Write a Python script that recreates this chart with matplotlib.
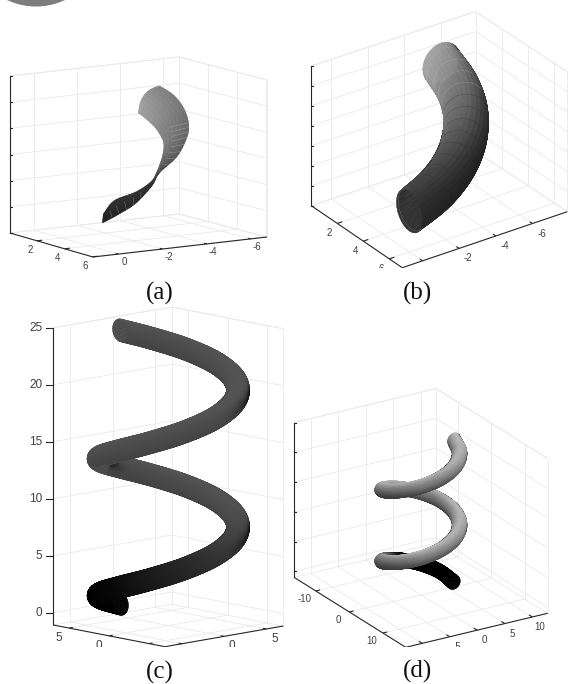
import numpy as np
import matplotlib
matplotlib.use("Agg")
import matplotlib.pyplot as plt
from matplotlib.collections import PolyCollection
from matplotlib.patches import Circle

plt.rcParams["font.family"] = ["Liberation Sans", "DejaVu Sans"]

W, H = 568, 684

# panel (a): open ribbon, two edges and a middle line, read row by row
a_y = [6, 6, 5.9, 5.7, 5.5, 5, 4.4, 3.6, 2.2, 1, 0]
a_edge1_x = [.68, -.08, -.9, -1.75, -2.21, -3.36, -4.2, -4.78, -5.49, -5.83, -5.86]
a_edge1_z = [1.25, 1.52, 1.84, 2.39, 2.80, 3.27, 3.86, 4.19, 4.48, 4.77, 4.97]
a_mid_x = [.66, .03, -.9, -1.73, -2.15, -3.02, -3.66, -4.07, -4.71, -5.08, -5.14]
a_mid_z = [1.42, 1.78, 2.05, 2.47, 2.81, 3.30, 3.78, 4.12, 4.28, 4.46, 4.69]
a_edge2_x = [.64, .15, -.9, -1.71, -2.09, -2.68, -3.12, -3.35, -3.93, -4.32, -4.88]
a_edge2_z = [1.59, 2.05, 2.27, 2.55, 2.83, 3.34, 3.71, 4.05, 4.09, 4.16, 4.01]
a_gray = [38, 40, 45, 55, 80, 105, 118, 128, 140, 150, 160]

# panel (b): tube segment
b_x = [0, -1.55, -3, -4.24, -5.2, -5.8, -6]
b_y = [6, 5.8, 5.2, 4.24, 3, 1.55, 0]
b_z = [2.05, 2.55, 3.05, 3.55, 4.05, 4.5, 5.0]
b_gray = [60, 64, 74, 88, 100, 118, 140]

# panel (c): two turns
c_x = [0, -3, -5.2, -6, -5.2, -3, 0, 3, 5.2, 6, 5.2, 3, 0, -3, -5.2, -6, -5.2, -3, 0, 3, 5.2, 6, 5.2, 3, 0]
c_y = [6, 5.2, 3, 0, -3, -5.2, -6, -5.2, -3, 0, 3, 5.2, 6, 5.2, 3, 0, -3, -5.2, -6, -5.2, -3, 0, 3, 5.2, 6]
c_z = [0, 1, 2, 3, 4, 5, 6, 7, 8, 9, 10, 11, 12, 13, 14, 15, 16, 17, 18, 19, 20, 21, 22, 23, 24]
c_gray = [0, 0, 0, 8, 25, 40, 55, 65, 72, 75, 75, 75, 75, 75, 75, 75, 75, 75, 75, 75, 75, 75, 75, 75, 78]

# panel (d): two turns, the other way round
d_x = [6, 5.2, 3, 0, -3, -5.2, -6, -5.2, -3, 0, 3, 5.2, 6, 5.2, 3, 0, -3, -5.2, -6, -5.2, -3, 0, 3, 5.2, 6]
d_y = [0, -3, -5.2, -6, -5.2, -3, 0, 3, 5.2, 6, 5.2, 3, 0, -3, -5.2, -6, -5.2, -3, 0, 3, 5.2, 6, 5.2, 3, 0]
d_z = [-.25, .75, 1.75, 2.75, 3.75, 4.75, 5.75, 6.75, 7.75, 8.75, 9.75, 10.75, 11.75, 12.75, 13.75,
       14.75, 15.75, 16.75, 17.75, 18.75, 19.75, 20.75, 21.75, 22.75, 23.75]
d_gray = [0, 0, 0, 0, 60, 105, 115, 125, 130, 130, 130, 130, 130, 125, 125, 125, 125, 125, 125, 125, 125, 125, 130, 130, 130]

# axis limits and ticks
a_xticks, a_yticks, a_zticks = [0, -2, -4, -6], [2, 4, 6], [0, 1, 2, 3, 4, 5, 6]
b_xticks, b_yticks, b_zticks = [0, -2, -4, -6], [2, 4, 6], [0, 1, 2, 3, 4, 5, 6, 7]
c_xticks, c_yticks, c_zticks = [-5, 0, 5], [5, 0, -5], [0, 5, 10, 15, 20, 25]
d_xticks, d_yticks, d_zticks = [-10, -5, 0, 5, 10], [-10, 0, 10], [0, 5, 10, 15, 20, 25]


class View:
    """box drawn from its floor corners in image pixels, z goes straight up"""

    def __init__(self, xs, ys, zs, L, F, R, B, height):
        self.xs, self.ys, self.zs = xs, ys, zs
        self.c = [np.array(p, float) for p in (L, F, R, B)]
        self.height = height
        l, f, r, b = self.c
        ex = ((r - f) + (b - l)) / 2 / (xs[1] - xs[0])
        ey = ((f - l) + (r - b)) / 2 / (ys[1] - ys[0])
        ez = height / (zs[1] - zs[0])
        right = np.array([ex[0], ey[0], 0.0])
        up = np.array([-ex[1], -ey[1], ez])
        self.right = right / np.linalg.norm(right)
        self.up = up / np.linalg.norm(up)
        view = np.cross(self.right, self.up)
        # the floor is always seen from above
        if view[2] < 0:
            view = -view
        self.view = view / np.linalg.norm(view)

    def __call__(self, x, y, z):
        x, y, z = np.asarray(x, float), np.asarray(y, float), np.asarray(z, float)
        fx = (x - self.xs[0]) / (self.xs[1] - self.xs[0])
        fy = (y - self.ys[0]) / (self.ys[1] - self.ys[0])
        l, f, r, b = self.c
        px = (1 - fx) * (1 - fy) * l[0] + (1 - fx) * fy * f[0] + fx * fy * r[0] + fx * (1 - fy) * b[0]
        py = (1 - fx) * (1 - fy) * l[1] + (1 - fx) * fy * f[1] + fx * fy * r[1] + fx * (1 - fy) * b[1]
        py = py - (z - self.zs[0]) / (self.zs[1] - self.zs[0]) * self.height
        return px, py


def smooth(values, n):
    # catmull-rom through the read points
    v = np.asarray(values, float)
    p = np.concatenate([[2 * v[0] - v[1]], v, [2 * v[-1] - v[-2]]])
    out = []
    for i in range(1, len(p) - 2):
        t = np.linspace(0, 1, n, endpoint=False)
        out.append(.5 * (2 * p[i] + (p[i + 1] - p[i - 1]) * t
                         + (2 * p[i - 1] - 5 * p[i] + 4 * p[i + 1] - p[i + 2]) * t ** 2
                         + (3 * p[i] - p[i - 1] - 3 * p[i + 1] + p[i + 2]) * t ** 3))
    out.append(v[-1:])
    return np.concatenate(out)


def tube_mesh(x, y, z, radius, nseg, nround=28):
    # rings stand in the plane through the z axis
    line = np.stack([smooth(x, nseg), smooth(y, nseg), smooth(z, nseg)], axis=1)
    radial = line * np.array([1, 1, 0])
    radial /= np.linalg.norm(radial, axis=1, keepdims=True)
    ang = np.linspace(0, 2 * np.pi, nround + 1)
    pts = np.zeros((len(line), nround + 1, 3))
    nor = np.zeros_like(pts)
    for i in range(len(line)):
        ring = np.outer(np.cos(ang), radial[i]) + np.outer(np.sin(ang), [0, 0, 1.0])
        nor[i] = ring
        pts[i] = line[i] + radius * ring
    return pts, nor


def draw_mesh(ax, view, pts, colors_fn):
    px, py = view(pts[..., 0], pts[..., 1], pts[..., 2])
    verts = np.stack([
        np.stack([px[:-1, :-1], py[:-1, :-1]], -1), np.stack([px[1:, :-1], py[1:, :-1]], -1),
        np.stack([px[1:, 1:], py[1:, 1:]], -1), np.stack([px[:-1, 1:], py[:-1, 1:]], -1)], axis=2)
    centre = (pts[:-1, :-1] + pts[1:, 1:]) / 2
    depth = centre @ view.view
    gray = colors_fn()
    order = np.argsort(depth.ravel())
    verts = verts.reshape(-1, 4, 2)[order]
    g = np.clip(gray.ravel()[order], 0, 255) / 255
    cols = np.stack([g, g, g], axis=1)
    ax.add_collection(PolyCollection(verts, facecolors=cols, edgecolors=cols, linewidths=.35))


def draw_tube(ax, view, x, y, z, gray, nseg, up_gain, right_dark, right_pow, left_gain=0, inner=50, radius=1.0):
    pts, nor = tube_mesh(x, y, z, radius, nseg)
    base = np.interp(np.linspace(0, len(gray) - 1, pts.shape[0]), np.arange(len(gray)), gray)

    def colors():
        n = (nor[:-1, :-1] + nor[1:, 1:]) / 2
        nr, nu, nv = n @ view.right, n @ view.up, n @ view.view
        f = 1 + up_gain * nu - right_dark * np.clip(nr, 0, 1) ** right_pow + left_gain * np.clip(-nr, 0, 1)
        g = base[:-1, None] * f
        return np.where(nv < 0, np.minimum(base[:-1, None], inner), g)

    draw_mesh(ax, view, pts, colors)
    return pts, nor


def draw_box(ax, view, xticks, yticks, zticks, xlabels, ylabels, zlabels,
             xoff, yoff, zlen, fs):
    x0, x1 = view.xs
    y0, y1 = view.ys
    z0, z1 = view.zs
    grid = dict(color="#e9e9e9", lw=.6, zorder=1)

    def seg(p, q, **kw):
        a = view(*p)
        b = view(*q)
        ax.plot([a[0], b[0]], [a[1], b[1]], solid_capstyle="butt", **kw)

    # walls and floor
    for t in xticks:
        seg((t, y0, z0), (t, y0, z1), **grid)
        seg((t, y0, z0), (t, y1, z0), **grid)
    for t in yticks:
        seg((x1, t, z0), (x1, t, z1), **grid)
        seg((x0, t, z0), (x1, t, z0), **grid)
    for t in zticks:
        seg((x0, y0, t), (x1, y0, t), **grid)
        seg((x1, y0, t), (x1, y1, t), **grid)
    seg((x1, y0, z0), (x1, y0, z1), **grid)
    seg((x1, y1, z0), (x1, y1, z1), **grid)
    seg((x0, y0, z1), (x1, y0, z1), **grid)
    seg((x1, y0, z1), (x1, y1, z1), **grid)
    seg((x1, y0, z0), (x1, y1, z0), **grid)
    seg((x0, y0, z0), (x1, y0, z0), **grid)

    axis = dict(color="#262626", lw=.8, zorder=5)
    seg((x0, y0, z0), (x0, y1, z0), **axis)
    seg((x0, y1, z0), (x1, y1, z0), **axis)
    seg((x0, y0, z0), (x0, y0, z1), **axis)

    for t, lab in zip(xticks, xlabels):
        seg((t, y1, z0), (t, y1 - .03 * (y1 - y0), z0), **axis)
        u, v = view(t, y1, z0)
        ax.text(u + xoff[0], v + xoff[1], lab, fontsize=fs, color="#404040", ha="center", va="center", clip_on=True)
    for t, lab in zip(yticks, ylabels):
        seg((x0, t, z0), (x0 + .03 * (x1 - x0), t, z0), **axis)
        u, v = view(x0, t, z0)
        ax.text(u + yoff[0], v + yoff[1], lab, fontsize=fs, color="#404040", ha="center", va="center", clip_on=True)
    for t, lab in zip(zticks, zlabels):
        u, v = view(x0, y0, t)
        ax.plot([u, u + zlen], [v, v], **axis)
        if lab:
            ax.text(u - 11, v, lab, fontsize=fs, color="#404040", ha="right", va="center", clip_on=True)


def panel(box):
    x0, y0, x1, y1 = box
    ax = fig.add_axes([x0 / W, 1 - y1 / H, (x1 - x0) / W, (y1 - y0) / H])
    ax.set_xlim(x0, x1)
    ax.set_ylim(y1, y0)
    ax.axis("off")
    return ax


fig = plt.figure(figsize=(W / 100, H / 100), dpi=100)

# (a)
ax = panel((0, 0, 284, 270))
ax.add_patch(Circle((36, -61.5), 68, fc="#7d7d7d", ec="none", zorder=1))
va = View((1.14, -6.73), (.05, 6.05), (0, 6), (10, 233), (93, 257), (267, 237), (179, 214), 157)
draw_box(ax, va, a_xticks, a_yticks, a_zticks, ["0", "-2", "-4", "-6"], ["2", "4", "6"], [""] * 7,
         (6, 8), (-7, 9), 2, 7)
rows = 14
cols = 8
ry = smooth(a_y, rows)
rail_x = np.stack([smooth(a_edge1_x, rows), smooth(a_mid_x, rows), smooth(a_edge2_x, rows)], axis=1)
rail_z = np.stack([smooth(a_edge1_z, rows), smooth(a_mid_z, rows), smooth(a_edge2_z, rows)], axis=1)
s = np.linspace(0, 2, cols + 1)
w = np.stack([(s - 1) * (s - 2) / 2, -s * (s - 2), s * (s - 1) / 2], axis=1)
a_pts = np.stack([rail_x @ w.T, np.repeat(ry[:, None], cols + 1, axis=1), rail_z @ w.T], axis=-1)
a_base = np.interp(np.linspace(0, len(a_gray) - 1, a_pts.shape[0]), np.arange(len(a_gray)), a_gray)


def a_colors():
    side = np.linspace(.82, 1.05, cols)
    return a_base[:-1, None] * side[None, :]


draw_mesh(ax, va, a_pts, a_colors)
# pale contour lines on the ribbon
for i in list(range(58, 100, 5)) + list(range(8, 34, 6)):
    u, v = va(a_pts[i, :6, 0], a_pts[i, :6, 1], a_pts[i, :6, 2])
    ax.plot(u, v, color="#d0d0d0", lw=.3, alpha=.55, zorder=4)

# (b)
ax = panel((290, 0, 568, 268))
vb = View((1.1, -7.9), (0, 7), (0, 7), (311.3, 205.7), (402.3, 267.7), (567.3, 211.7), (475.7, 151.3), 139.7)
draw_box(ax, vb, b_xticks, b_yticks, b_zticks, ["", "-2", "-4", "-6"], ["2", "4", "6"], [""] * 8,
         (9, 10), (-8, 10), 2, 7)
pts, nor = draw_tube(ax, vb, b_x, b_y, b_z, b_gray, 24, .1, .6, 1.2, left_gain=.25, inner=46)
for i in range(18, pts.shape[0] - 4, 11):
    vis = nor[i] @ vb.view > .1
    u, v = vb(pts[i, vis, 0], pts[i, vis, 1], pts[i, vis, 2])
    order = np.argsort(u)
    ax.plot(u[order], v[order], color="#b8b8b8" if i > 100 else "#2a2a2a", lw=.3, alpha=.5, zorder=4)
# faint line inside the open end
vis = nor[0] @ vb.view < .4
u, v = vb(pts[2, vis, 0], pts[2, vis, 1], pts[2, vis, 2])
ax.plot(u, v, color="#707070", lw=.3, zorder=4)

# (c)
ax = panel((0, 305, 285, 647))
vc = View((-7, 7), (7, -7), (-1.08, 25), (53.3, 625), (165, 646.7), (283.3, 626), (171.7, 604.3), 297.3)
draw_box(ax, vc, c_xticks, c_yticks, c_zticks, ["-5", "0", "5"], ["5", "0", "-5"], [str(t) for t in c_zticks],
         (8, 10), (-10, 10), -7, 8.5)
draw_tube(ax, vc, c_x, c_y, c_z, c_gray, 10, .12, .9, 8, inner=75)

# (d)
ax = panel((285, 385, 568, 647))
vd = View((-13, 12.8), (-16.5, 16.8), (-1, 25), (294, 577.3), (405.7, 647.3), (547.7, 613.3), (436, 543.3), 154.7)
draw_box(ax, vd, d_xticks, d_yticks, d_zticks, ["-10", "-5", "0", "5", "10"], ["-10", "0", "10"], [""] * 6,
         (7, 10), (-11, 8), 2, 7)
draw_tube(ax, vd, d_x, d_y, d_z, d_gray, 10, .45, 1.2, 40, left_gain=-.25, inner=55, radius=1.15)

# captions
for lab, cx, cy in [("(a)", 160, 293), ("(b)", 417, 293), ("(c)", 160, 672), ("(d)", 417, 671)]:
    fig.text(cx / W, 1 - cy / H, lab, fontsize=18, family="Liberation Serif", color="#111111",
             ha="center", va="center")

fig.savefig("out.png", dpi=100)
